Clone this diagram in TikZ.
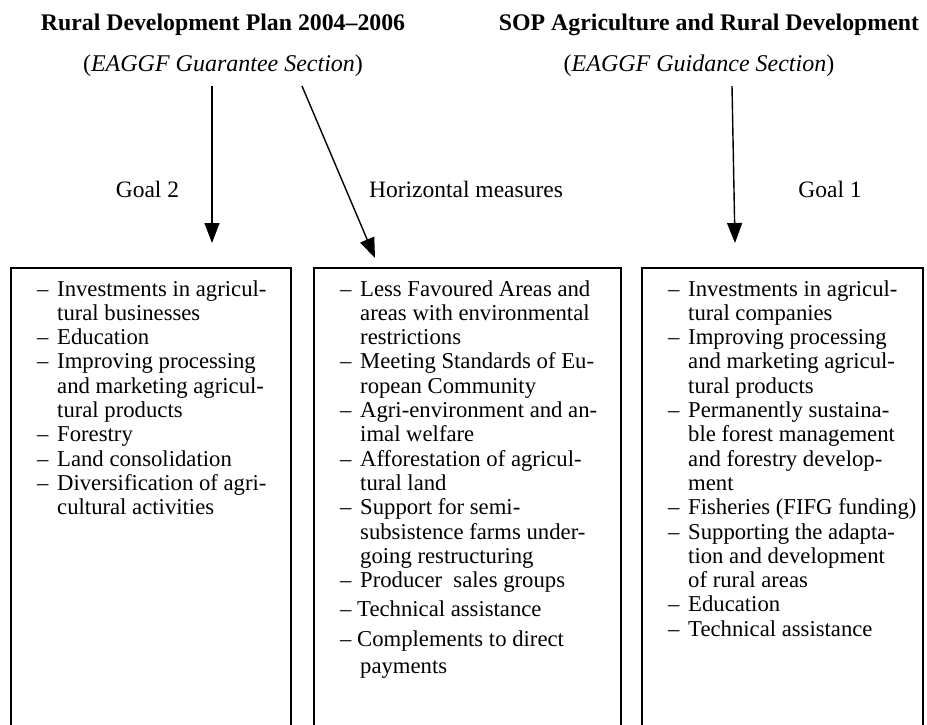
\documentclass[tikz,border=0pt]{standalone}
\usepackage{fontspec}
\setmainfont{Liberation Serif}
\usetikzlibrary{arrows.meta}
\newcommand\dd{\makebox[20pt][l]{–}}
\newcommand\ii{\hspace*{20pt}}
\newcommand\mm{\makebox[17pt][l]{–}}
\begin{document}
\begin{tikzpicture}[x=1pt,y=-1pt,
  txt/.style={inner sep=0pt, font=\fontsize{22.7}{24.3}\selectfont},
  ttl/.style={inner sep=0pt, anchor=base, font=\fontsize{23.8}{26}\selectfont\bfseries},
  sub/.style={inner sep=0pt, anchor=base, font=\fontsize{24}{26}\selectfont},
  lbl/.style={inner sep=0pt, anchor=base, font=\fontsize{23.5}{26}\selectfont},
  boxline/.style={line width=1.8pt},
  arr/.style={line width=1.4pt, -{Triangle[length=20pt,width=15pt]}},
  list/.style={txt, anchor=base west}]
\useasboundingbox (0,0) rectangle (927,724);

% titles
\node[ttl] (t1) at (223,30) {Rural Development Plan 2004–2006};
\node[ttl] (t2) at (709,30) {SOP Agriculture and Rural Development};
\node[sub] (s1) at (223,71) {(\textit{EAGGF Guarantee Section})};
\node[sub] (s2) at (699,71) {(\textit{EAGGF Guidance Section})};

% labels
\node[lbl] (g2) at (147.5,197) {Goal 2};
\node[lbl] (hm) at (466,197) {Horizontal measures};
\node[lbl] (g1) at (830,197) {Goal 1};

% boxes (bottom edge lies beyond the picture)
\draw[boxline] (11,726) -- (11,268) -- (291,268) -- (291,726);
\draw[boxline] (314,726) -- (314,268) -- (621,268) -- (621,726);
\draw[boxline] (642,726) -- (642,268) -- (923,268) -- (923,726);

% arrow end points
\coordinate (a1s) at (212,86);
\coordinate (a1e) at (212,243);
\coordinate (a2s) at (302,86);
\coordinate (a2e) at (375,258);
\coordinate (a3s) at (732,86);
\coordinate (a3e) at (735,243);
\draw[arr] (a1s) -- (a1e);
\draw[arr] (a2s) -- (a2e);
\draw[arr] (a3s) -- (a3e);

% box texts
\node[list] (b1) at (37,296) {\renewcommand\arraystretch{1}\begin{tabular}[t]{@{}l@{}}
\dd Investments in agricul-\\
\ii tural businesses\\
\dd Education\\
\dd Improving processing\\
\ii and marketing agricul-\\
\ii tural products\\
\dd Forestry\\
\dd Land consolidation\\
\dd Diversification of agri-\\
\ii cultural activities
\end{tabular}};

\node[list] (b2) at (340,296) {\renewcommand\arraystretch{1}\begin{tabular}[t]{@{}l@{}}
\dd Less Favoured Areas and\\
\ii areas with environmental\\
\ii restrictions\\
\dd Meeting Standards of Eu-\\
\ii ropean Community\\
\dd Agri-environment and an-\\
\ii imal welfare\\
\dd Afforestation of agricul-\\
\ii tural land\\
\dd Support for semi-\\
\ii subsistence farms under-\\
\ii going restructuring\\
\dd Producer\ \ sales groups\\[4.1pt]
\mm Technical assistance\\[5.7pt]
\mm Complements to direct\\[2.7pt]
\ii payments
\end{tabular}};

\node[list] (b3) at (668,296) {\renewcommand\arraystretch{1}\begin{tabular}[t]{@{}l@{}}
\dd Investments in agricul-\\
\ii tural companies\\
\dd Improving processing\\
\ii and marketing agricul-\\
\ii tural products\\
\dd Permanently sustaina-\\
\ii ble forest management\\
\ii and forestry develop-\\
\ii ment\\
\dd Fisheries (FIFG funding)\\
\dd Supporting the adapta-\\
\ii tion and development\\
\ii of rural areas\\
\dd Education\\
\dd Technical assistance
\end{tabular}};
\end{tikzpicture}
\end{document}
